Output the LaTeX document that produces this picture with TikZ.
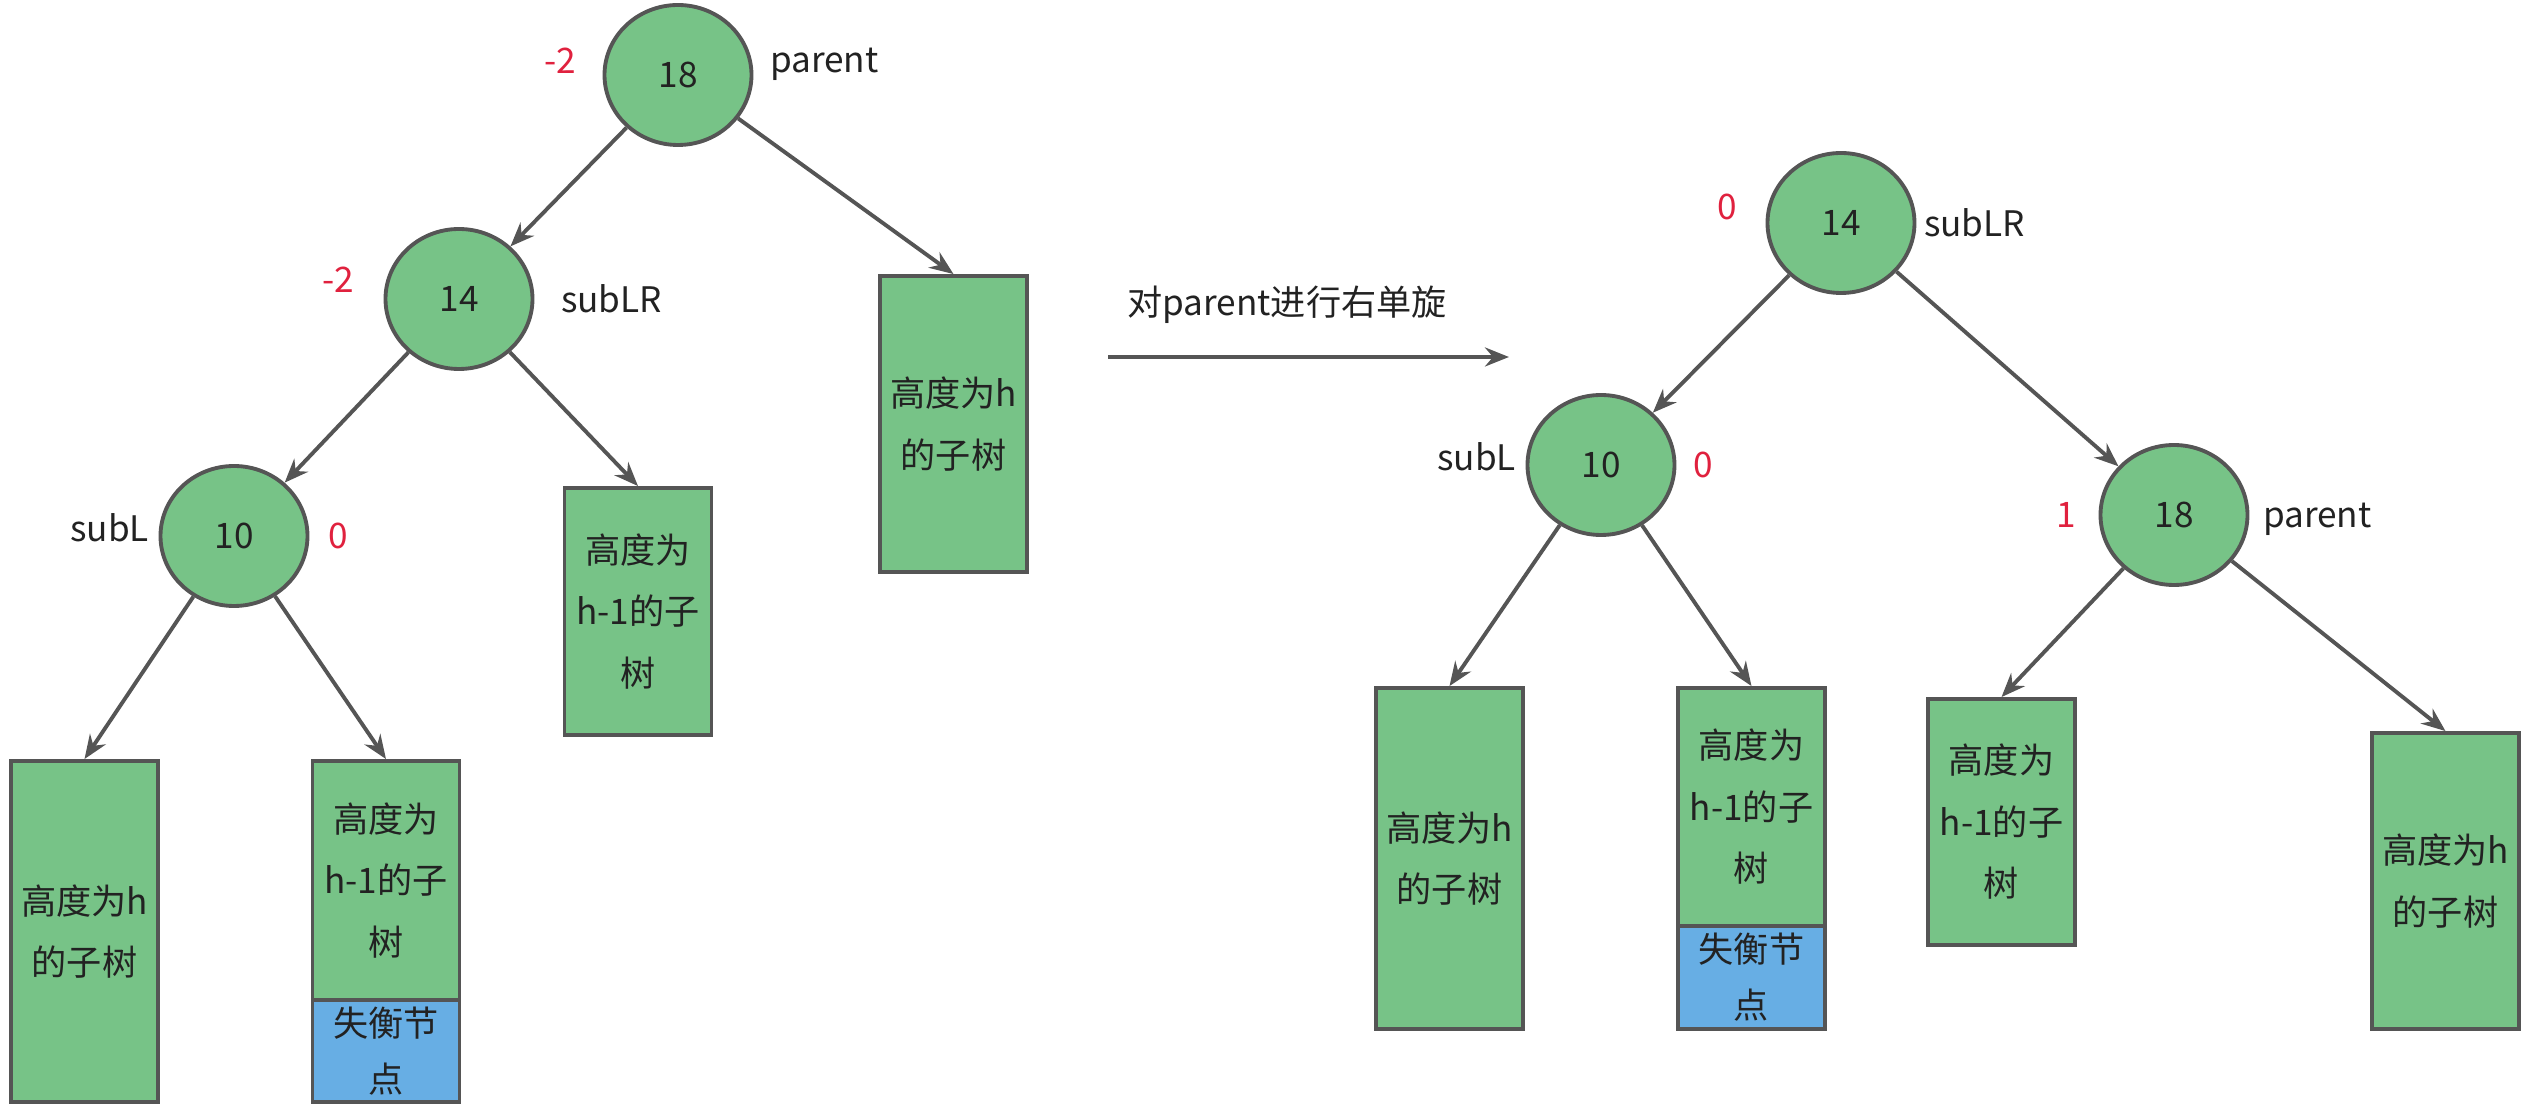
\documentclass[tikz,border=0pt]{standalone}
\usepackage{fontspec}
\setmainfont{Noto Sans CJK SC}
\usepackage{tikz}
\usetikzlibrary{
    shapes.geometric, % ellipse
    arrows.meta,      % Stealth
    positioning       % left=of ...
}
\definecolor{nodegreen}{HTML}{77C387}
\definecolor{nodeblue}{HTML}{67AEE4}
\definecolor{edgegray}{HTML}{555555}
\definecolor{bfred}{HTML}{E0213E}
\definecolor{txtdark}{HTML}{222222}

\begin{document}
\begin{tikzpicture}[
    font=\fontsize{10}{17.5}\selectfont,
    treenode/.style={ellipse, draw=edgegray, fill=nodegreen, line width=1.1pt, minimum width=1.47cm, minimum height=1.40cm, text=txtdark},
    subtree/.style={draw=edgegray, fill=nodegreen, line width=1.1pt, minimum width=1.47cm, align=center, text=txtdark, inner sep=0pt},
    badnode/.style={subtree, fill=nodeblue, font=\fontsize{10}{16}\selectfont},
    bfval/.style={text=bfred, inner sep=0pt},
    namelbl/.style={text=txtdark, inner sep=0pt},
    arrow/.style={-{Stealth[length=2.4mm, width=1.9mm, inset=0.8mm]}, draw=edgegray, line width=1.1pt},
  ]
    \useasboundingbox (0,0) rectangle (25.33,-11.18);

    % Before rotation
    \node[treenode] (L18) at (6.78,-0.75) {18};
    \node[treenode] (L14) at (4.59,-2.99) {14};
    \node[treenode] (L10) at (2.34,-5.36) {10};

    \node[subtree, minimum height=2.96cm] (LhR) at (9.535,-4.24) {高度为h\\的子树};
    \node[subtree, minimum height=2.47cm] (LmR) at (6.38,-6.115) {高度为\\h-1的子\\树};
    \node[subtree, minimum height=3.41cm] (LhL) at (0.845,-9.315) {高度为h\\的子树};
    \node[subtree, minimum height=2.39cm] (Lm) at (3.86,-8.805) {高度为\\h-1的子\\树};
    \node[badnode, minimum height=1.02cm, below=-1.1pt of Lm] (Lbad) {失衡节\\点};

    \node[bfval, left=0.26cm of L18, yshift=0.14cm] (bL18) {-2};
    \node[namelbl, right=0.16cm of L18, yshift=0.11cm] (nL18) {parent};
    \node[bfval, left=0.29cm of L14, yshift=0.19cm] (bL14) {-2};
    \node[namelbl, right=0.26cm of L14] (nL14) {subLR};
    \node[namelbl, left=0.09cm of L10, yshift=0.08cm] (nL10) {subL};
    \node[bfval, right=0.18cm of L10] (bL10) {0};

    \draw[arrow] (L18) -- (L14);
    \draw[arrow] (L18) -- (LhR.north);
    \draw[arrow] (L14) -- (L10);
    \draw[arrow] (L14) -- (LmR.north);
    \draw[arrow] (L10) -- (LhL.north);
    \draw[arrow] (L10) -- (Lm.north);

    % Rotation
    \coordinate (rotS) at (11.08,-3.57);
    \coordinate (rotE) at (15.09,-3.57);
    \draw[arrow] (rotS) -- (rotE);
    \node[namelbl] (rotlbl) at (12.87,-3.05) {对parent进行右单旋};

    % After rotation
    \node[treenode] (R14) at (18.41,-2.23) {14};
    \node[treenode] (R10) at (16.01,-4.65) {10};
    \node[treenode] (R18) at (21.74,-5.15) {18};

    \node[subtree, minimum height=3.41cm] (RhL) at (14.495,-8.585) {高度为h\\的子树};
    \node[subtree, minimum height=2.38cm] (Rm) at (17.515,-8.07) {高度为\\h-1的子\\树};
    \node[badnode, minimum height=1.03cm, below=-1.1pt of Rm] (Rbad) {失衡节\\点};
    \node[subtree, minimum height=2.46cm] (RmR) at (20.015,-8.22) {高度为\\h-1的子\\树};
    \node[subtree, minimum height=2.96cm] (RhR) at (24.455,-8.81) {高度为h\\的子树};

    \node[bfval, left=0.28cm of R14, yshift=0.16cm] (bR14) {0};
    \node[namelbl, right=0.07cm of R14] (nR14) {subLR};
    \node[namelbl, left=0.09cm of R10, yshift=0.08cm] (nR10) {subL};
    \node[bfval, right=0.16cm of R10] (bR10) {0};
    \node[bfval, left=0.22cm of R18] (bR18) {1};
    \node[namelbl, right=0.13cm of R18, yshift=-0.04cm] (nR18) {parent};

    \draw[arrow] (R14) -- (R10);
    \draw[arrow] (R14) -- (R18);
    \draw[arrow] (R10) -- (RhL.north);
    \draw[arrow] (R10) -- (Rm.north);
    \draw[arrow] (R18) -- (RmR.north);
    \draw[arrow] (R18) -- (RhR.north);
  \end{tikzpicture}
\end{document}
